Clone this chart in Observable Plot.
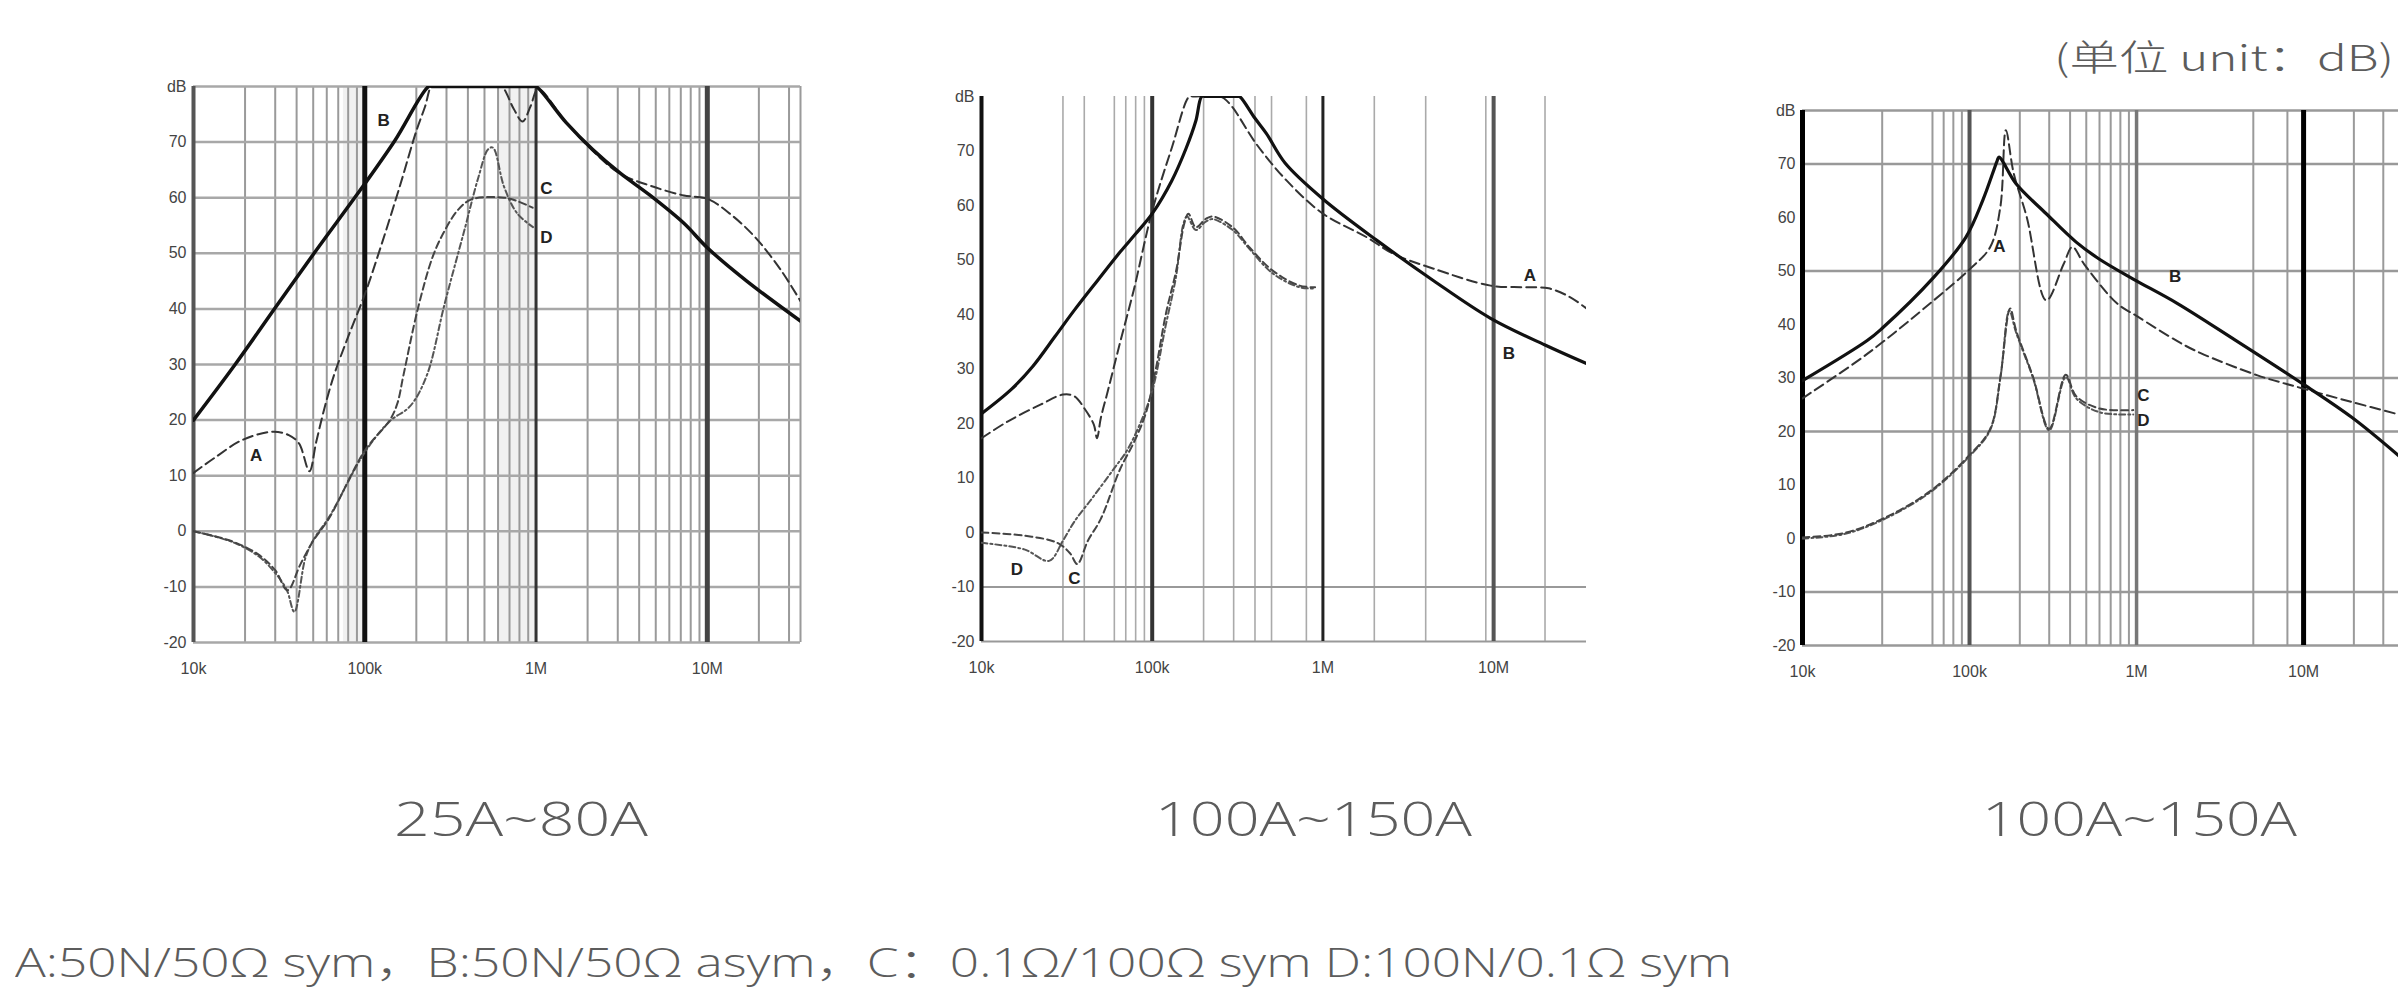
<!DOCTYPE html>
<html><head><meta charset="utf-8">
<script src="https://cdn.jsdelivr.net/npm/d3@7"></script>
<script src="https://cdn.jsdelivr.net/npm/@observablehq/plot@0.6"></script>
<style>
html,body{margin:0;padding:0;background:#fff;overflow:hidden}
#page{position:relative;width:2398px;height:991px;background:#fff;overflow:hidden}
.fig{position:absolute}
.txt{position:absolute;white-space:nowrap;line-height:1.25;color:#5c5c5c;font-family:"Open Sans",sans-serif;font-weight:300;transform-origin:0 0}
</style></head><body><div id="page"></div>
<script>
// ---------- shared axis data ----------
const xTicks = [1e4, 1e5, 1e6, 1e7];
const xTickLabels = ["10k", "100k", "1M", "10M"];
const yTicks = [-20, -10, 0, 10, 20, 30, 40, 50, 60, 70, 80];
const yTickLabels = ["-20", "-10", "0", "10", "20", "30", "40", "50", "60", "70", "dB"];

// ---------- panel 1 : 25A~80A ----------
const p1Minor = [2e4,3e4,4e4,5e4,6e4,7e4,8e4,9e4,2e5,3e5,4e5,5e5,6e5,7e5,8e5,9e5,2e6,3e6,4e6,5e6,6e6,7e6,8e6,9e6,2e7,3e7,3.5e7];
const p1HGrid = [-20,-10,0,10,20,30,40,50,60,70,80];
const p1Bands = [[7.5e4,1e5],[6e5,1e6]];
const p1A = [[1e4,10.5],[1.34e4,13.3],[1.92e4,16.4],[2.9e4,17.9],[3.6e4,17.3],[4.13e4,15.8],[4.75e4,10.8],[5.2e4,16],[5.8e4,22],[6.6e4,28],[8e4,35],[1e5,42.6],[1.25e5,51.5],[1.6e5,62],[2e5,72],[2.25e5,76.4],[2.45e5,80],[2.6e5,80],[6e5,80],[6.4e5,79.8],[7.4e5,76],[8.35e5,73.7],[9.3e5,76.5],[1.03e6,79.5],[1.5e6,73.5],[2.15e6,68.4],[3.1e6,64.3],[4.6e6,62.2],[7.3e6,60.4],[1e7,59.8],[1.37e7,57],[1.9e7,52.9],[2.7e7,46.9],[3.5e7,41.4]];
const p1B = [[1e4,20],[1.75e4,30],[3e4,40.2],[5e4,49.8],[1e5,62.5],[1.5e5,70.3],[2.36e5,80],[2.5e5,80],[9.5e5,80],[1e6,80],[1.5e6,73.5],[2.15e6,68.6],[3.1e6,64.4],[4.6e6,60.5],[7.3e6,55.4],[1e7,51],[1.7e7,45],[3.5e7,37.8]];
const p1C = [[1e4,0],[1.68e4,-1.8],[2.4e4,-4.2],[3e4,-7],[3.54e4,-10.6],[4.2e4,-6],[4.98e4,-1.8],[6.2e4,2.4],[1e5,14.5],[1.4e5,20],[1.55e5,23],[1.68e5,28],[2.04e5,40],[2.5e5,49.5],[2.92e5,54],[3.5e5,57.8],[4.2e5,59.7],[6.5e5,60],[7.75e5,59.4],[9.55e5,58.2]];
const p1D = [[1e4,0],[1.68e4,-1.9],[2.4e4,-4.5],[3e4,-7.5],[3.5e4,-10.5],[3.88e4,-14.5],[4.5e4,-4.8],[5e4,-1.6],[6.2e4,2.6],[1e5,14.2],[1.4e5,19.8],[1.84e5,22.5],[2.3e5,28],[2.92e5,40.8],[3.85e5,54.6],[4.6e5,63.6],[5.25e5,68.7],[5.6e5,69],[6.5e5,62],[7.75e5,57.2],[9.6e5,54.7]];
const p1LabelText = ["A","B","C","D"];
const p1LabelPos = [[2.32e4,13.7],[1.29e5,73.8],[1.15e6,61.6],[1.15e6,52.9]];

// ---------- panel 2 : 100A~150A ----------
const p2Minor = [3e4,4e4,6e4,7e4,8e4,9e4,2e5,3e5,4e5,5e5,8e5,2e6,4e6,9e6,2e7];
const p2HGrid = [-20,-10];
const p2A = [[1e4,17.3],[1.43e4,20.4],[2.23e4,23.5],[3e4,25.3],[3.5e4,25],[4e4,22.8],[4.55e4,19.8],[4.75e4,17.3],[5e4,21],[5.5e4,26],[6.5e4,35],[7.8e4,44.5],[1e5,59],[1.3e5,70.5],[1.65e5,80],[1.75e5,80],[2.5e5,80],[2.65e5,79.6],[2.96e5,78],[4.07e5,71.3],[6.12e5,64.6],[1e6,58.5],[1.8e6,54.2],[2.6e6,51.1],[4.45e6,48.4],[9.6e6,45.3],[1.5e7,45],[2.1e7,44.8],[2.8e7,43.2],[3.5e7,41.1]];
const p2B = [[1e4,21.8],[1.5e4,26.3],[2e4,30.5],[2.7e4,36],[3.5e4,40.8],[4.8e4,46.3],[6.5e4,51.5],[8e4,54.8],[1e5,58.5],[1.3e5,64.5],[1.58e5,70.5],[1.8e5,75.5],[1.95e5,80],[2.05e5,80],[3.15e5,80],[3.25e5,80],[4e5,76],[4.67e5,73.2],[6e5,67.8],[1e6,61.2],[2.07e6,53.6],[4.45e6,46.2],[9.6e6,39.3],[2e7,34.4],[3.5e7,31]];
const p2C = [[1e4,0],[1.8e4,-0.6],[2.78e4,-1.9],[3.3e4,-3.8],[3.64e4,-5.8],[4.2e4,-1.5],[5e4,2.5],[6.5e4,11.7],[7.8e4,16.5],[9.2e4,22],[1.05e5,30],[1.2e5,40],[1.38e5,48],[1.55e5,57],[1.63e5,58.5],[1.8e5,56],[2.05e5,57.5],[2.26e5,58],[2.96e5,56],[3.72e5,52.3],[5.1e5,48],[7.3e5,45.3],[9e5,45]];
const p2D = [[1e4,-1.9],[1.78e4,-3.1],[2.49e4,-5.2],[3e4,-1.5],[3.5e4,2],[4.5e4,6.5],[5.9e4,11.5],[7.1e4,15],[8.5e4,20],[1e5,26],[1.2e5,38],[1.38e5,47],[1.52e5,56.5],[1.6e5,58],[1.8e5,55.5],[2.05e5,57],[2.26e5,57.5],[2.96e5,55.5],[3.72e5,52],[5.1e5,47.5],[7.3e5,45],[9e5,44.8]];
const p2LabelText = ["A","B","C","D"];
const p2LabelPos = [[1.63e7,47.1],[1.23e7,32.8],[3.5e4,-8.5],[1.61e4,-6.8]];

// ---------- panel 3 : 100A~150A ----------
const p3Minor = [3e4,6e4,7e4,8e4,9e4,2e5,3e5,4e5,5e5,6e5,7e5,8e5,9e5,5e6,8e6,2e7,3e7];
const p3HGrid = [-20,-10,20,30,50,70,80];
const p3A = [[1e4,26.2],[2.44e4,34.5],[6.1e4,44.5],[1e5,50.3],[1.33e5,54.5],[1.53e5,62],[1.65e5,76.3],[1.84e5,68.2],[2.2e5,60.1],[2.88e5,44.5],[3.66e5,51.3],[4.13e5,54.5],[4.85e5,51.3],[7.6e5,44],[1e6,41.6],[1.82e6,36.6],[2.4e6,34.7],[5.3e6,30.5],[1e7,28],[1.95e7,25.5],[3.7e7,23.2]];
const p3B = [[1e4,29.5],[2.44e4,37],[3e4,39.3],[6.1e4,48.8],[9.5e4,56.3],[1.2e5,63.2],[1.46e5,70.5],[1.5e5,71.3],[1.9e5,66.3],[2.88e5,60.7],[4.35e5,55.4],[6e5,52.2],[9.55e5,48.5],[1.74e6,44],[3.8e6,37.3],[1e7,28.8],[1.95e7,22.6],[3.7e7,15.5]];
const p3C = [[1e4,0.2],[1.76e4,1],[2.98e4,3.6],[5.79e4,8.8],[1e5,15.6],[1.33e5,20.5],[1.53e5,30.2],[1.75e5,43],[1.9e5,38.9],[2.4e5,30.2],[3e5,20.5],[3.77e5,30.6],[4.35e5,26.6],[6e5,24.3],[9.55e5,24]];
const p3D = [[1e4,0],[1.76e4,0.8],[2.98e4,3.4],[5.79e4,8.6],[1e5,15.4],[1.33e5,20.3],[1.53e5,30],[1.73e5,42.6],[1.9e5,38.5],[2.4e5,30],[3e5,20.2],[3.77e5,30.2],[4.35e5,26.2],[6e5,23.6],[9.55e5,23.2]];
const p3LabelText = ["A","B","C","D"];
const p3LabelPos = [[1.51e5,54.5],[1.7e6,49],[1.1e6,26.8],[1.1e6,22]];

// ---------- texts ----------
const panelTitles = ["25A~80A", "100A~150A", "100A~150A"];
const unitText = "(单位 unit：dB)";
const legendText = "A:50N/50Ω sym，B:50N/50Ω asym，C：0.1Ω/100Ω sym D:100N/0.1Ω sym";

const page = document.getElementById("page");
const yLabel = new Map(yTicks.map((t, i) => [t, yTickLabels[i]]));
const xLabel = new Map(xTicks.map((t, i) => [t, xTickLabels[i]]));
const fx = d => d[0], fy = d => d[1];

function panel(cfg) {
  const mL = 60, mT = 20, mB = 45;
  const marks = [];
  if (cfg.bands) marks.push(Plot.rect(cfg.bands, {x1: d => d[0], x2: d => d[1], fill: "#f1f1f1"}));
  marks.push(Plot.ruleX(cfg.minor, {stroke: cfg.minorColor, strokeWidth: cfg.minorWidth}));
  marks.push(Plot.ruleY(cfg.hgrid, {stroke: cfg.hColor, strokeWidth: cfg.hWidth}));
  xTicks.forEach((t, i) => marks.push(Plot.ruleX([t], {stroke: cfg.majorColor[i], strokeWidth: cfg.majorWidth[i]})));
  const curve = "catmull-rom";
  marks.push(Plot.line(cfg.D, {x: fx, y: fy, curve, stroke: "#555", strokeWidth: 2, strokeDasharray: "6,3,2,3", clip: true}));
  marks.push(Plot.line(cfg.C, {x: fx, y: fy, curve, stroke: "#444", strokeWidth: 2, strokeDasharray: "7,4", clip: true}));
  marks.push(Plot.line(cfg.A, {x: fx, y: fy, curve, stroke: "#333", strokeWidth: 2, strokeDasharray: "10,5", clip: true}));
  marks.push(Plot.line(cfg.B, {x: fx, y: fy, curve, stroke: "#111", strokeWidth: cfg.bWidth, clip: true}));
  marks.push(Plot.text(cfg.labelPos, {x: fx, y: fy, text: (d, i) => cfg.labelText[i], fontSize: 17, fontWeight: "bold", fill: "#222", fontFamily: "Liberation Sans, Arial, sans-serif"}));
  marks.push(Plot.axisY(yTicks, {tickFormat: d => yLabel.get(d), tickSize: 0, tickPadding: 7, fontSize: 16, fill: "#444", label: null, fontFamily: "Liberation Sans, Arial, sans-serif"}));
  marks.push(Plot.axisX(xTicks, {tickFormat: d => xLabel.get(d), tickSize: 0, tickPadding: 20, fontSize: 16, fill: "#444", label: null, fontFamily: "Liberation Sans, Arial, sans-serif"}));
  const svg = Plot.plot({
    width: mL + cfg.plotW + cfg.mR,
    height: mT + cfg.plotH + mB,
    marginLeft: mL, marginRight: cfg.mR, marginTop: mT, marginBottom: mB,
    x: {type: "log", domain: cfg.xDomain},
    y: {domain: [-20, 80]},
    style: {background: "transparent", overflow: "visible"},
    marks
  });
  const wrap = document.createElement("div");
  wrap.className = "fig";
  wrap.style.left = (cfg.left - mL) + "px";
  wrap.style.top = (cfg.top - mT) + "px";
  wrap.appendChild(svg);
  page.appendChild(wrap);
}

panel({left: 193, top: 86, plotW: 607, plotH: 556, mR: 12, xDomain: [1e4, 3.5e7],
  minor: p1Minor, hgrid: p1HGrid, bands: p1Bands, A: p1A, B: p1B, C: p1C, D: p1D,
  labelPos: p1LabelPos, labelText: p1LabelText,
  minorColor: "#9a9a9a", minorWidth: 2, hColor: "#a8a8a8", hWidth: 2.5,
  majorColor: ["#555", "#111", "#333", "#444"], majorWidth: [4, 5, 3, 5], bWidth: 3.5});
panel({left: 981, top: 96, plotW: 605, plotH: 545, mR: 12, xDomain: [1e4, 3.5e7],
  minor: p2Minor, hgrid: p2HGrid, A: p2A, B: p2B, C: p2C, D: p2D,
  labelPos: p2LabelPos, labelText: p2LabelText,
  minorColor: "#aaa", minorWidth: 1.6, hColor: "#999", hWidth: 1.8,
  majorColor: ["#111", "#333", "#222", "#555"], majorWidth: [4, 4, 3, 4], bWidth: 3.2});
panel({left: 1802, top: 110, plotW: 596, plotH: 535, mR: 0, xDomain: [1e4, 3.7e7],
  minor: p3Minor, hgrid: p3HGrid, A: p3A, B: p3B, C: p3C, D: p3D,
  labelPos: p3LabelPos, labelText: p3LabelText,
  minorColor: "#9a9a9a", minorWidth: 2, hColor: "#999", hWidth: 2.5,
  majorColor: ["#000", "#555", "#777", "#000"], majorWidth: [5, 4, 3.5, 5], bWidth: 3.2});

function addText(str, opts) {
  const el = document.createElement("div");
  el.className = "txt";
  el.textContent = str;
  el.style.fontSize = opts.size + "px";
  if (opts.family) el.style.fontFamily = opts.family;
  page.appendChild(el);
  const r = el.getBoundingClientRect();
  const s = opts.width / r.width;
  el.style.transform = `scaleX(${s})`;
  const left = opts.center != null ? opts.center - opts.width / 2 : opts.left;
  el.style.left = left + "px";
  el.style.top = (opts.cy - r.height / 2) + "px";
}
const titleCenters = [521, 1313, 2139];
const titleWidths = [254, 317, 315];
panelTitles.forEach((t, i) => addText(t, {size: 48, center: titleCenters[i], width: titleWidths[i], cy: 818}));
addText(unitText, {size: 36, left: 2054, width: 340, cy: 55, family: "'Noto Sans CJK SC','Open Sans',sans-serif"});
addText(legendText, {size: 40, left: 15, width: 1717, cy: 962, family: "'Open Sans','Noto Sans CJK SC',sans-serif"});
</script></body></html>
